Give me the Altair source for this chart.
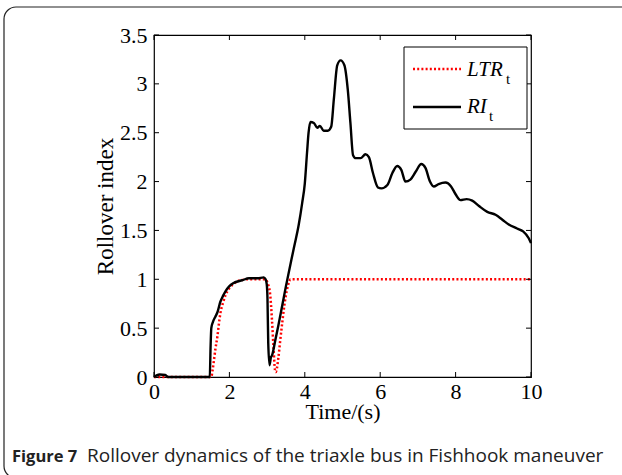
import altair as alt
import pandas as pd

# RI_t (black solid)
ri_t = [0, 0.08, 0.15, 0.3, 0.38, 1.0, 1.48, 1.50, 1.52, 1.56, 1.63, 1.68, 1.76, 1.83, 1.90, 2.0, 2.1, 2.34,
        2.52, 2.75, 2.91, 2.96, 2.99, 3.01, 3.03, 3.065, 3.10, 3.13, 3.22, 3.30, 3.5, 3.71, 3.84, 3.93, 4.0,
        4.06, 4.10, 4.15, 4.24, 4.33, 4.40, 4.50, 4.61, 4.70, 4.77, 4.86, 4.95, 5.05, 5.14, 5.21, 5.28, 5.35,
        5.48, 5.61, 5.70, 5.81, 5.94, 6.03, 6.19, 6.32, 6.45, 6.56, 6.67, 6.80, 6.94, 7.09, 7.20, 7.32,
        7.42, 7.55, 7.73, 7.88, 8.0, 8.13, 8.29, 8.44, 8.62, 8.84, 9.06, 9.24, 9.41, 9.63, 9.79, 9.94, 10.0]
ri_v = [0.0, 0.02, 0.025, 0.02, 0.0, 0.0, 0.0, 0.30, 0.50, 0.56, 0.62, 0.66, 0.77, 0.83, 0.88, 0.93, 0.96, 0.99,
        1.01, 1.01, 1.02, 1.0, 0.95, 0.80, 0.35, 0.12, 0.20, 0.22, 0.38, 0.53, 0.93, 1.32, 1.56, 1.78, 1.98,
        2.30, 2.50, 2.61, 2.60, 2.55, 2.57, 2.52, 2.52, 2.56, 2.84, 3.19, 3.24, 3.19, 2.94, 2.60, 2.27, 2.24,
        2.24, 2.28, 2.25, 2.085, 1.94, 1.93, 1.965, 2.085, 2.16, 2.12, 2.0, 2.02, 2.10, 2.18, 2.14, 2.0,
        1.95, 1.975, 1.99, 1.95, 1.87, 1.81, 1.82, 1.805, 1.75, 1.69, 1.66, 1.61, 1.56, 1.52, 1.49, 1.42, 1.37]

# LTR_t (red dotted)
ltr_t = [0, 1.52, 1.55, 1.59, 1.63, 1.68, 1.72, 1.76, 1.83, 1.90, 2.0, 2.1, 2.3, 2.5, 2.95, 3.0, 3.04, 3.08,
         3.13, 3.17, 3.21, 3.23, 3.26, 3.30, 3.35, 3.40, 3.46, 3.52, 3.58, 3.62, 10.0]
ltr_v = [0, 0, 0.06, 0.17, 0.29, 0.41, 0.54, 0.65, 0.76, 0.84, 0.91, 0.95, 0.99, 1.0, 1.0, 0.975, 0.93, 0.85,
         0.58, 0.30, 0.07, 0.05, 0.09, 0.20, 0.38, 0.55, 0.74, 0.88, 0.97, 1.0, 1.0]

x_ticks = [0, 2, 4, 6, 8, 10]
y_ticks = [0, 0.5, 1, 1.5, 2, 2.5, 3, 3.5]

W, H = 377, 342
SERIF = "Liberation Serif"

xs = alt.Scale(domain=[0, 10], nice=False, zero=False)
ys = alt.Scale(domain=[0, 3.5], nice=False, zero=False)

df_ri = pd.DataFrame({"t": ri_t, "v": ri_v})
df_ltr = pd.DataFrame({"t": ltr_t, "v": ltr_v})
df_xt = pd.DataFrame({"t": x_ticks})
df_yt = pd.DataFrame({"v": y_ticks})
one = pd.DataFrame({"a": [0]})

x_axis = alt.Axis(values=x_ticks, ticks=False, domain=False, grid=False, labelFont=SERIF, labelFontSize=22,
                  labelColor="black", labelPadding=4, labelFlush=False, title="Time/(s)", titleFont=SERIF,
                  titleFontSize=22, titleFontWeight="normal", titleColor="black", titlePadding=-1)
y_axis = alt.Axis(values=y_ticks, ticks=False, domain=False, grid=False, labelFont=SERIF, labelFontSize=22,
                  labelColor="black", labelPadding=7, labelFlush=False, title="Rollover index", titleFont=SERIF,
                  titleFontSize=23, titleFontWeight="normal", titleColor="black", titlePadding=2, format="~g")

border = alt.Chart(one).mark_rect(fill=None, stroke="#222", strokeWidth=1.2, cornerRadius=12).encode(
    x=alt.value(-150), x2=alt.value(700), y=alt.value(-28), y2=alt.value(443))

ltr_line = alt.Chart(df_ltr).mark_line(color="#ff0000", strokeWidth=2.5, strokeDash=[2, 2.2],
                                       interpolate="monotone").encode(
    x=alt.X("t:Q", scale=xs, axis=x_axis), y=alt.Y("v:Q", scale=ys, axis=y_axis))
ri_line = alt.Chart(df_ri).mark_line(color="black", strokeWidth=2.4, interpolate="monotone").encode(
    x=alt.X("t:Q", scale=xs), y=alt.Y("v:Q", scale=ys))

tk = dict(color="black", strokeWidth=1)
yt_left = alt.Chart(df_yt).mark_rule(**tk).encode(y=alt.Y("v:Q", scale=ys), x=alt.value(0), x2=alt.value(5))
yt_right = alt.Chart(df_yt).mark_rule(**tk).encode(y=alt.Y("v:Q", scale=ys), x=alt.value(W - 5), x2=alt.value(W))
xt_bot = alt.Chart(df_xt).mark_rule(**tk).encode(x=alt.X("t:Q", scale=xs), y=alt.value(H - 5), y2=alt.value(H))
xt_top = alt.Chart(df_xt).mark_rule(**tk).encode(x=alt.X("t:Q", scale=xs), y=alt.value(0), y2=alt.value(5))

leg_box = alt.Chart(one).mark_rect(fill="white", stroke="black", strokeWidth=1).encode(
    x=alt.value(250), x2=alt.value(373), y=alt.value(12), y2=alt.value(94))
leg_l1 = alt.Chart(one).mark_rule(color="#ff0000", strokeWidth=2.5, strokeDash=[2, 2.2]).encode(
    x=alt.value(259), x2=alt.value(307), y=alt.value(34))
leg_l2 = alt.Chart(one).mark_rule(color="black", strokeWidth=2.4).encode(
    x=alt.value(259), x2=alt.value(307), y=alt.value(72))
txt = dict(font=SERIF, fontSize=21, fontStyle="italic", color="black", align="left", baseline="alphabetic")
sub = dict(font=SERIF, fontSize=15, color="black", align="left", baseline="alphabetic")
leg_t1 = alt.Chart(one).mark_text(text="LTR", **txt).encode(x=alt.value(313), y=alt.value(41))
leg_s1 = alt.Chart(one).mark_text(text="t", **sub).encode(x=alt.value(352), y=alt.value(49))
leg_t2 = alt.Chart(one).mark_text(text="RI", **txt).encode(x=alt.value(313), y=alt.value(78))
leg_s2 = alt.Chart(one).mark_text(text="t", **sub).encode(x=alt.value(335), y=alt.value(86))

cap_b = alt.Chart(one).mark_text(text="Figure 7", font="Open Sans", fontSize=16.5, fontWeight="bold",
                                 color="#222", align="left", baseline="alphabetic").encode(
    x=alt.value(-142), y=alt.value(427))
cap_r = alt.Chart(one).mark_text(text="Rollover dynamics of the triaxle bus in Fishhook maneuver",
                                 font="Open Sans", fontSize=19, color="#222", align="left",
                                 baseline="alphabetic").encode(x=alt.value(-67), y=alt.value(427))

chart = alt.layer(border, ltr_line, ri_line, yt_left, yt_right, xt_bot, xt_top,
                  leg_box, leg_l1, leg_l2, leg_t1, leg_s1, leg_t2, leg_s2, cap_b, cap_r).properties(
    width=W, height=H, autosize="none",
    padding={"left": 154, "top": 35, "right": 91, "bottom": 98},
    background="white",
).configure_view(stroke="black", strokeWidth=1.2)

chart.save("out.html", embed_options={"renderer": "svg", "actions": False})
